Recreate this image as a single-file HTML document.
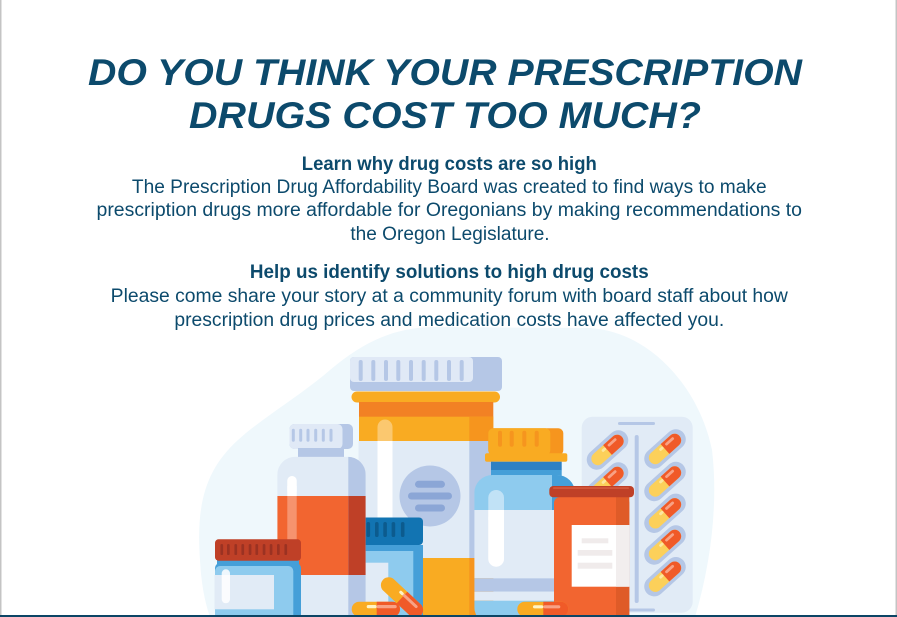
<!DOCTYPE html>
<html>
<head>
<meta charset="utf-8">
<style>
html,body{margin:0;padding:0;background:#fff;}
svg{display:block;}
</style>
</head>
<body>
<svg width="897" height="617" viewBox="0 0 897 617" xmlns="http://www.w3.org/2000/svg">
<defs>
  <clipPath id="wb"><rect x="277.3" y="456.7" width="88.4" height="170" rx="18"/></clipPath>
  <clipPath id="bb"><rect x="474.3" y="475" width="100.7" height="150" rx="18"/></clipPath>
  <g id="cap">
    <rect x="-24.5" y="-10" width="49" height="20" rx="10" fill="#b5c7e6"/>
    <rect x="-19.5" y="-6.5" width="39" height="13" rx="6.5" fill="#fcd05a"/>
    <path d="M0,-6.5 H13 A6.5,6.5 0 0 1 13,6.5 H0 Z" fill="#f05a28"/>
    <rect x="3" y="-4" width="11" height="2.8" rx="1.4" fill="#f8a285"/>
    <rect x="-5" y="-4" width="5" height="2.8" rx="1.4" fill="#fde7a0"/>
  </g>
</defs>

<rect width="897" height="617" fill="#fff"/>

<!-- background blob -->
<path d="M200,560 C196,505 205,470 238,440 C262,418 300,396 330,370 C362,343 392,328 432,327 L590,328 C652,332 700,390 712,450 C718,500 712,560 695,617 L210,617 C204,600 201,580 200,560 Z" fill="#eff8fc"/>

<!-- blister pack -->
<rect x="581.7" y="416.7" width="111" height="196" rx="11" fill="#e1ebf6"/>
<rect x="634.7" y="435" width="4" height="168" rx="2" fill="#b5c7e6"/>
<rect x="618" y="422" width="37" height="3" rx="1.5" fill="#b5c7e6"/>
<rect x="618" y="608.5" width="37" height="3" rx="1.5" fill="#b5c7e6"/>
<use href="#cap" transform="translate(607.5,450) rotate(-42)"/>
<use href="#cap" transform="translate(607.5,482) rotate(-42)"/>
<use href="#cap" transform="translate(665,449) rotate(-42)"/>
<use href="#cap" transform="translate(665,481.5) rotate(-42)"/>
<use href="#cap" transform="translate(665,513.3) rotate(-42)"/>
<use href="#cap" transform="translate(665,545) rotate(-42)"/>
<use href="#cap" transform="translate(665,576.7) rotate(-42)"/>

<!-- big bottle -->
<rect x="350" y="357" width="152" height="34" rx="4" fill="#b5c7e6"/>
<rect x="350" y="357" width="123" height="25" rx="4" fill="#e0e9f6"/>
<g fill="#b5c7e6">
  <rect x="358.7" y="360" width="4" height="21" rx="2"/>
  <rect x="371.3" y="360" width="4" height="21" rx="2"/>
  <rect x="384" y="360" width="4" height="21" rx="2"/>
  <rect x="396.3" y="360" width="4" height="21" rx="2"/>
  <rect x="409" y="360" width="4" height="21" rx="2"/>
  <rect x="421.7" y="360" width="4" height="21" rx="2"/>
  <rect x="434.3" y="360" width="4" height="21" rx="2"/>
  <rect x="447" y="360" width="4" height="21" rx="2"/>
  <rect x="459.7" y="360" width="4" height="21" rx="2"/>
</g>
<rect x="351.5" y="391.5" width="148.5" height="11" rx="5.5" fill="#f9ab22"/>
<rect x="359" y="402" width="134.3" height="15" fill="#f28124"/>
<rect x="359" y="416.7" width="134.3" height="24.3" fill="#f9ab22"/>
<rect x="469.3" y="416.7" width="24" height="24.3" fill="#f6951e"/>
<rect x="358.5" y="441" width="134.8" height="176" fill="#e1ebf6"/>
<rect x="469.3" y="441" width="24" height="117" fill="#b5c7e6"/>
<rect x="358.5" y="558" width="134.8" height="59" fill="#f9ab22"/>
<rect x="469.3" y="558" width="24" height="59" fill="#f6951e"/>
<circle cx="430" cy="496" r="30.5" fill="#b5c7e6"/>
<g stroke="#8ba6d6" stroke-width="7" stroke-linecap="round">
  <line x1="418.5" y1="484.3" x2="441.5" y2="484.3"/>
  <line x1="411.5" y1="496" x2="448.5" y2="496"/>
  <line x1="418.5" y1="508" x2="441.5" y2="508"/>
</g>
<rect x="377.5" y="419.5" width="15" height="40" rx="7.5" fill="#fff" opacity="0.35"/>
<rect x="377.5" y="441" width="15" height="90" fill="#fff"/>

<!-- right blue bottle -->
<rect x="488.3" y="428.3" width="75" height="27" rx="5" fill="#f6951e"/>
<rect x="488.3" y="428.3" width="62" height="27" rx="5" fill="#f9ab22"/>
<g fill="#f6951e">
  <rect x="498" y="430.7" width="4" height="16" rx="2"/>
  <rect x="509.7" y="430.7" width="4" height="16" rx="2"/>
  <rect x="522.3" y="430.7" width="4" height="16" rx="2"/>
  <rect x="534.7" y="430.7" width="4" height="16" rx="2"/>
</g>
<rect x="485" y="453.3" width="82.3" height="8.4" rx="2" fill="#f9ab22"/>
<rect x="491" y="461.7" width="70.7" height="8.5" fill="#2f80c3"/>
<rect x="491" y="470" width="70.7" height="6" fill="#459fd8"/>
<g clip-path="url(#bb)">
  <rect x="474.3" y="475" width="100.7" height="35" fill="#8ecbee"/>
  <rect x="552" y="475" width="23" height="35" fill="#459fd8"/>
  <rect x="474.3" y="510" width="100.7" height="68.3" fill="#e1ebf6"/>
  <rect x="474.3" y="578.3" width="100.7" height="13.4" fill="#b5c7e6"/>
  <rect x="474.3" y="591.7" width="100.7" height="9" fill="#e1ebf6"/>
  <rect x="474.3" y="600.7" width="100.7" height="20" fill="#8ecbee"/>
</g>
<rect x="488.3" y="490" width="15.7" height="76.7" rx="7.8" fill="#fff" opacity="0.45"/>
<rect x="488.3" y="510" width="15.7" height="56.7" rx="7.8" fill="#fff"/>
<rect x="488.3" y="510" width="15.7" height="10" fill="#fff"/>

<!-- middle blue jar -->
<rect x="356" y="517.5" width="67" height="27.5" rx="4" fill="#1274b2"/>
<g fill="#0c5b8e">
  <rect x="366.5" y="522" width="3.6" height="15" rx="1.8"/>
  <rect x="375" y="522" width="3.6" height="15" rx="1.8"/>
  <rect x="383.3" y="522" width="3.6" height="15" rx="1.8"/>
  <rect x="391.6" y="522" width="3.6" height="15" rx="1.8"/>
  <rect x="400.9" y="522" width="3.6" height="15" rx="1.8"/>
</g>
<rect x="358" y="545" width="65" height="7" fill="#459fd8"/>
<rect x="358" y="551" width="65" height="70" rx="6" fill="#8ecbee"/>
<rect x="413.3" y="551" width="9.7" height="66" fill="#459fd8"/>
<rect x="358" y="562.7" width="30.3" height="54.3" fill="#e1ebf6"/>

<!-- white bottle -->
<rect x="289.5" y="424" width="63.5" height="25" rx="5" fill="#b5c7e6"/>
<rect x="289.5" y="424" width="53" height="25" rx="5" fill="#e0e9f6"/>
<g fill="#b5c7e6">
  <rect x="291.8" y="428.7" width="3" height="13" rx="1.5"/>
  <rect x="299.2" y="428.7" width="3" height="13" rx="1.5"/>
  <rect x="306.5" y="428.7" width="3" height="13" rx="1.5"/>
  <rect x="314.2" y="428.7" width="3" height="13" rx="1.5"/>
  <rect x="321.8" y="428.7" width="3" height="13" rx="1.5"/>
  <rect x="329.5" y="428.7" width="3" height="13" rx="1.5"/>
</g>
<rect x="298" y="448" width="46" height="9" fill="#b5c7e6"/>
<g clip-path="url(#wb)">
  <rect x="277.3" y="456.7" width="88.4" height="170" fill="#e1ebf6"/>
  <rect x="348.3" y="456.7" width="17.4" height="170" fill="#b5c7e6"/>
  <rect x="277.3" y="496" width="71" height="79" fill="#f26530"/>
  <rect x="348.3" y="496" width="17.4" height="79" fill="#bf4027"/>
</g>
<rect x="287.3" y="476" width="9.4" height="130" rx="4.7" fill="#fff" opacity="0.3"/>
<rect x="287.3" y="476" width="9.4" height="20" rx="4.7" fill="#fff"/>
<rect x="287.3" y="486" width="9.4" height="10" fill="#fff"/>
<rect x="287.3" y="575" width="9.4" height="31" fill="#fff"/>

<!-- red-cap jar (front left) -->
<rect x="217" y="559" width="82" height="8" fill="#459fd8"/>
<rect x="215" y="563" width="86" height="58" rx="5" fill="#459fd8"/>
<rect x="215" y="566" width="78.3" height="55" rx="5" fill="#8ecbee"/>
<rect x="214.5" y="575" width="59.5" height="34.3" fill="#e1ebf6"/>
<rect x="221.7" y="569.3" width="8.3" height="34" rx="4.2" fill="#fff" opacity="0.85"/>
<rect x="215" y="539.3" width="86" height="21.4" rx="3.5" fill="#bf4027"/>
<g fill="#9b3222">
  <rect x="220.4" y="544" width="2.7" height="11" rx="1.3"/>
  <rect x="227" y="544" width="2.7" height="11" rx="1.3"/>
  <rect x="234.4" y="544" width="2.7" height="11" rx="1.3"/>
  <rect x="241.4" y="544" width="2.7" height="11" rx="1.3"/>
  <rect x="248.7" y="544" width="2.7" height="11" rx="1.3"/>
  <rect x="255.4" y="544" width="2.7" height="11" rx="1.3"/>
  <rect x="262.7" y="544" width="2.7" height="11" rx="1.3"/>
  <rect x="269.7" y="544" width="2.7" height="11" rx="1.3"/>
  <rect x="277" y="544" width="2.7" height="11" rx="1.3"/>
  <rect x="284.4" y="544" width="2.7" height="11" rx="1.3"/>
</g>

<!-- red jar (right) -->
<rect x="554" y="497" width="75.3" height="124" rx="6" fill="#f26530"/>
<rect x="616" y="497" width="13.3" height="120" fill="#df5b28"/>
<rect x="571.7" y="525" width="57.6" height="61.7" fill="#fff"/>
<rect x="616" y="525" width="13.3" height="61.7" fill="#f2eeee"/>
<g fill="#f0ebeb">
  <rect x="581.7" y="538.3" width="26.6" height="5"/>
  <rect x="577.7" y="550" width="34.6" height="5.7"/>
  <rect x="577.7" y="562.7" width="34.6" height="6"/>
</g>
<rect x="549.3" y="486" width="84.7" height="11.3" rx="4" fill="#bf4027"/>
<rect x="553" y="487.3" width="76" height="1.6" rx="0.8" fill="#d65a3e"/>

<!-- floor capsules -->
<g>
  <rect x="351.7" y="601.7" width="48.3" height="15" rx="7.5" fill="#f9ab22"/>
  <path d="M376.7,601.7 H392.5 A7.5,7.5 0 0 1 392.5,616.7 H376.7 Z" fill="#f05a28"/>
  <rect x="366.7" y="605" width="10" height="3.2" rx="1.6" fill="#fff3c4"/>
  <rect x="376.7" y="605" width="20" height="3.2" rx="1.6" fill="#f8a285"/>
</g>
<g transform="translate(402,597.5) rotate(43)">
  <rect x="-26" y="-7.8" width="52" height="15.6" rx="7.8" fill="#f9ab22"/>
  <path d="M0,-7.8 H18.2 A7.8,7.8 0 0 1 18.2,7.8 H0 Z" fill="#f05a28"/>
  <rect x="-2" y="-4.5" width="20" height="3" rx="1.5" fill="#f8a285"/>
  <rect x="-6" y="-4.5" width="5" height="3" rx="1.5" fill="#fff3c4"/>
</g>
<g>
  <rect x="517.3" y="601.7" width="51" height="15" rx="7.5" fill="#f9ab22"/>
  <path d="M543.3,601.7 H560.8 A7.5,7.5 0 0 1 560.8,616.7 H543.3 Z" fill="#f05a28"/>
  <rect x="533" y="605.2" width="10.3" height="3.2" rx="1.6" fill="#fff3c4"/>
  <rect x="543.3" y="605.2" width="17" height="3.2" rx="1.6" fill="#f8a285"/>
</g>

<!-- text -->
<g font-family="'Liberation Sans', Arial, sans-serif" fill="#0c4a6c">
  <text x="88" y="85" font-size="37" font-weight="bold" font-style="italic" textLength="714" lengthAdjust="spacingAndGlyphs">DO YOU THINK YOUR PRESCRIPTION</text>
  <text x="189" y="128" font-size="37" font-weight="bold" font-style="italic" textLength="512" lengthAdjust="spacingAndGlyphs">DRUGS COST TOO MUCH?</text>

  <text x="301.8" y="170" font-size="19" font-weight="bold" textLength="295" lengthAdjust="spacingAndGlyphs">Learn why drug costs are so high</text>
  <text x="131.9" y="193" font-size="19" textLength="634.7" lengthAdjust="spacingAndGlyphs">The Prescription Drug Affordability Board was created to find ways to make</text>
  <text x="96.5" y="216" font-size="19" textLength="705.5" lengthAdjust="spacingAndGlyphs">prescription drugs more affordable for Oregonians by making recommendations to</text>
  <text x="350.4" y="240" font-size="19" textLength="199.2" lengthAdjust="spacingAndGlyphs">the Oregon Legislature.</text>

  <text x="249.9" y="278" font-size="19" font-weight="bold" textLength="398.8" lengthAdjust="spacingAndGlyphs">Help us identify solutions to high drug costs</text>
  <text x="110.7" y="302" font-size="19" textLength="677.2" lengthAdjust="spacingAndGlyphs">Please come share your story at a community forum with board staff about how</text>
  <text x="174.4" y="326" font-size="19" textLength="549.8" lengthAdjust="spacingAndGlyphs">prescription drug prices and medication costs have affected you.</text>
</g>

<!-- borders -->
<rect x="0" y="0" width="1.5" height="617" fill="#c4c4c4"/>
<rect x="895.5" y="0" width="1.5" height="617" fill="#c4c4c4"/>
<rect x="0" y="615" width="897" height="2" fill="#0c4565"/>
</svg>
</body>
</html>
